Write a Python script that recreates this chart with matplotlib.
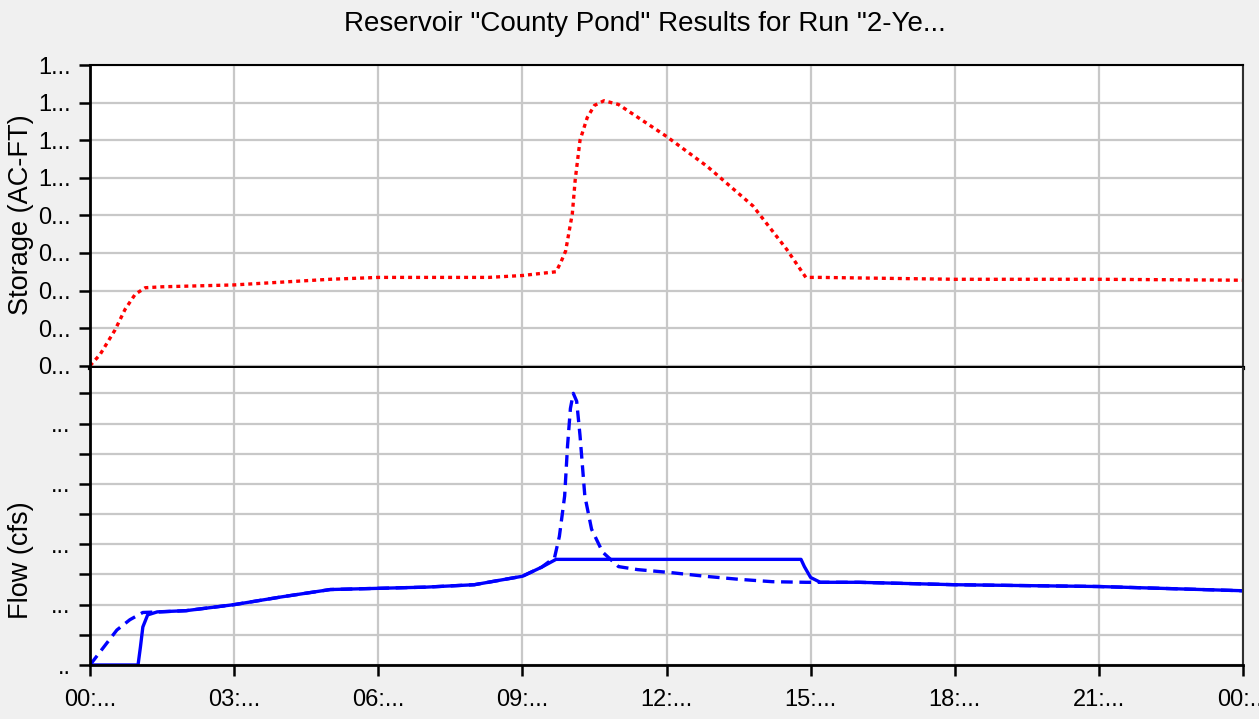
import numpy as np
import matplotlib.pyplot as plt

plt.rcParams['font.family'] = ['Liberation Sans', 'DejaVu Sans']

# storage (AC-FT) vs hours
t_stor = [0, 0.21, 0.52, 0.73, 0.94, 1.15, 1.5, 3, 5, 6, 8.3, 9.0, 9.7, 9.8, 9.9,
          10.04, 10.1, 10.2, 10.35, 10.5, 10.7, 11.0, 12.0, 12.85, 13.8, 14.5,
          14.9, 15.2, 18, 21, 24]
storage = [0, 0.06, 0.19, 0.30, 0.38, 0.415, 0.42, 0.43, 0.46, 0.47, 0.47, 0.48,
           0.50, 0.55, 0.61, 0.81, 0.99, 1.20, 1.32, 1.385, 1.41, 1.39, 1.22, 1.06,
           0.85, 0.62, 0.47, 0.47, 0.46, 0.46, 0.455]

# inflow (cfs)
t_in = [0, 0.27, 0.56, 0.83, 1.1, 1.46, 2.0, 3, 4, 5, 6, 7, 8, 9, 9.4, 9.67,
        9.77, 9.88, 9.94, 10.0, 10.06, 10.13, 10.2, 10.3, 10.44, 10.67, 11.0,
        11.4, 12.1, 12.8, 13.5, 14.2, 14.9, 15.2, 16, 18, 21, 24]
inflow = [0, 2.8, 5.8, 7.5, 8.7, 8.8, 9.0, 10.0, 11.3, 12.5, 12.7, 12.9, 13.3,
          14.7, 16.2, 17.8, 21.3, 28, 36.3, 42.5, 45, 43.7, 38, 28, 22.5, 18.7,
          16.3, 15.8, 15.3, 14.7, 14.2, 13.8, 13.7, 13.7, 13.7, 13.3, 13.0, 12.3]

# outflow (cfs)
t_out = [0, 1.0, 1.05, 1.1, 1.2, 1.4, 2.0, 3, 4, 5, 6, 7, 8, 9, 9.4, 9.7, 14.8,
         14.87, 15.0, 15.2, 16, 18, 21, 24]
outflow = [0, 0, 3.0, 6.3, 8.3, 8.8, 9.0, 10.0, 11.3, 12.5, 12.7, 12.9, 13.3, 14.7,
           16.2, 17.5, 17.5, 16.3, 14.5, 13.7, 13.7, 13.3, 13.0, 12.3]

x_ticks = [0, 3, 6, 9, 12, 15, 18, 21, 24]
x_labels = ['00:...', '03:...', '06:...', '09:...', '12:...', '15:...', '18:...', '21:...', '00:...']
stor_ticks = [0, 0.2, 0.4, 0.6, 0.8, 1.0, 1.2, 1.4, 1.6]
stor_labels = ['0...', '0...', '0...', '0...', '0...', '1...', '1...', '1...', '1...']
flow_ticks = [0, 5, 10, 15, 20, 25, 30, 35, 40, 45]
flow_labels = ['..', '', '...', '', '...', '', '...', '', '...', '']

W, H = 1259, 719
fig = plt.figure(figsize=(W / 100, H / 100), dpi=100, facecolor='#f0f0f0')

def px(x0, y0, x1, y1):
    return [x0 / W, 1 - y1 / H, (x1 - x0) / W, (y1 - y0) / H]

ax1 = fig.add_axes(px(90, 65, 1243, 368))
ax2 = fig.add_axes(px(90, 368, 1243, 665), sharex=ax1)

grid_c = '#c8c8c8'
for ax in (ax1, ax2):
    ax.set_facecolor('white')
    ax.grid(True, color=grid_c, lw=1.6)
    ax.set_axisbelow(True)
    ax.spines['top'].set_linewidth(1.5)
    ax.spines['right'].set_linewidth(1.5)
    ax.spines['right'].set_color('#303030')
    ax.spines['left'].set_linewidth(2)
    ax.spines['bottom'].set_linewidth(2)
    ax.tick_params(axis='y', length=8, width=1.8, labelsize=17, pad=6)
    ax.tick_params(axis='x', length=8, width=1.8, labelsize=17, pad=9)

ax1.plot(t_stor, storage, color='red', lw=2.4, linestyle=(0, (1.2, 1.2)))
ax1.set_ylim(-0.012, 1.6)
ax1.set_yticks(stor_ticks)
ax1.set_yticklabels(stor_labels)
ax1.spines['bottom'].set_linewidth(3)
ax1.tick_params(axis='x', length=0, labelbottom=False)

ax2.plot(t_in, inflow, color='blue', lw=2.4, linestyle=(0, (3.5, 2)))
ax2.plot(t_out, outflow, color='blue', lw=2.4)
ax2.set_ylim(0, 49.2)
ax2.set_yticks(flow_ticks)
ax2.set_yticklabels(flow_labels)
ax2.spines['top'].set_visible(False)

ax2.set_xlim(0, 24)
ax2.set_xticks(x_ticks)
ax2.set_xticklabels(x_labels)

fig.text(645 / W, 1 - 24 / H, 'Reservoir "County Pond" Results for Run "2-Ye...',
         ha='center', va='center', fontsize=20)
fig.text(21 / W, 1 - 215 / H, 'Storage (AC-FT)', rotation=90, ha='center', va='center', fontsize=19.5)
fig.text(21 / W, 1 - 560 / H, 'Flow (cfs)', rotation=90, ha='center', va='center', fontsize=19.5)

fig.savefig('out.png', dpi=100, facecolor=fig.get_facecolor())
